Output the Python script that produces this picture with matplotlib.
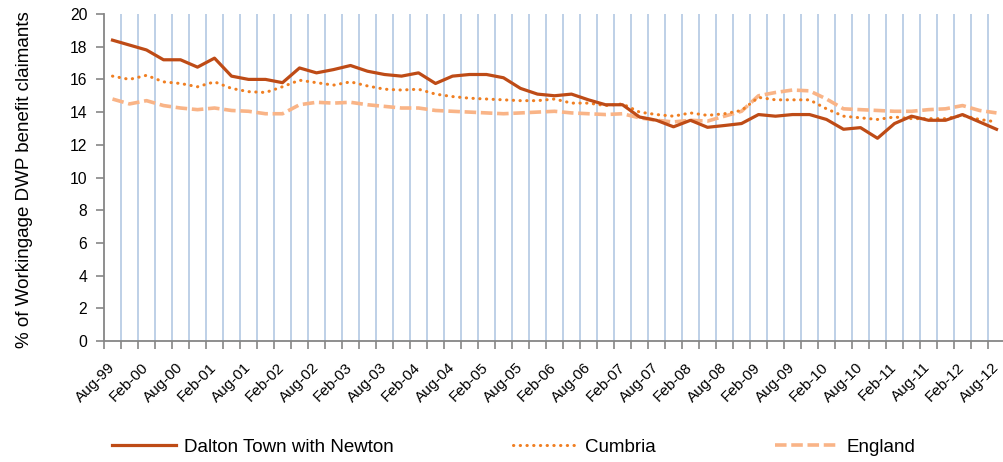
import numpy as np
import matplotlib.pyplot as plt
from matplotlib.transforms import ScaledTranslation

plt.rcParams['font.family'] = ['Liberation Sans', 'DejaVu Sans']

# quarterly readings, Aug-99 .. Aug-12
dalton = [18.4, 18.1, 17.8, 17.2, 17.2, 16.75, 17.3, 16.2, 16.0, 16.0,
          15.8, 16.7, 16.4, 16.6, 16.85, 16.5, 16.3, 16.2, 16.4, 15.75,
          16.2, 16.3, 16.3, 16.1, 15.45, 15.1, 15.0, 15.1, 14.75, 14.45,
          14.45, 13.7, 13.5, 13.1, 13.5, 13.07, 13.18, 13.3, 13.85, 13.75,
          13.85, 13.85, 13.55, 12.95, 13.05, 12.4, 13.3, 13.75, 13.5, 13.5,
          13.85, 13.4, 12.95]
cumbria = [16.2, 16.0, 16.25, 15.85, 15.75, 15.55, 15.85, 15.45, 15.25, 15.2,
           15.55, 15.95, 15.8, 15.65, 15.85, 15.6, 15.4, 15.35, 15.4, 15.1,
           14.95, 14.85, 14.8, 14.75, 14.7, 14.7, 14.8, 14.55, 14.55, 14.4,
           14.5, 14.0, 13.85, 13.75, 13.95, 13.8, 13.9, 14.1, 14.9, 14.75,
           14.75, 14.75, 14.2, 13.75, 13.65, 13.55, 13.7, 13.6, 13.6, 13.6,
           13.8, 13.55, 13.4]
england = [14.8, 14.5, 14.7, 14.4, 14.25, 14.15, 14.25, 14.1, 14.05, 13.9,
           13.9, 14.45, 14.6, 14.55, 14.6, 14.45, 14.35, 14.25, 14.25, 14.1,
           14.05, 14.0, 13.95, 13.9, 13.95, 14.0, 14.05, 13.95, 13.9, 13.85,
           13.9, 13.65, 13.5, 13.4, 13.5, 13.45, 13.75, 14.05, 15.0, 15.2,
           15.35, 15.3, 14.8, 14.2, 14.15, 14.1, 14.05, 14.05, 14.15, 14.2,
           14.4, 14.1, 13.95]
tick_labels = ['Aug-99', 'Feb-00', 'Aug-00', 'Feb-01', 'Aug-01', 'Feb-02',
               'Aug-02', 'Feb-03', 'Aug-03', 'Feb-04', 'Aug-04', 'Feb-05',
               'Aug-05', 'Feb-06', 'Aug-06', 'Feb-07', 'Aug-07', 'Feb-08',
               'Aug-08', 'Feb-09', 'Aug-09', 'Feb-10', 'Aug-10', 'Feb-11',
               'Aug-11', 'Feb-12', 'Aug-12']

n = len(dalton)
x = np.arange(n)
axcol = '#868686'

fig = plt.figure(figsize=(10.04, 4.62), dpi=100)
ax = fig.add_axes([104 / 1004, 121 / 462, 901 / 1004, 327 / 462])

# vertical grid between categories
ax.vlines(x + 0.5, 0, 20, color='#B9CDE5', lw=1.3, zorder=1)

ax.plot(x, england, color='#F9B487', lw=2.6, dashes=(3.2, 1.3), zorder=3,
        label='England')
ax.plot(x, cumbria, color='#F07F22', lw=2.2, linestyle=(0, (0.1, 2.1)),
        dash_capstyle='round', zorder=4, label='Cumbria')
ax.plot(x, dalton, color='#BE4B16', lw=2.3, zorder=5,
        label='Dalton Town with Newton')

ax.set_xlim(-0.5, n - 0.5)
ax.set_ylim(0, 20)
ax.set_yticks(range(0, 21, 2))

ax.set_xticks(np.arange(n + 1) - 0.5)
ax.set_xticklabels([])
ax.set_xticks(x[::2], tick_labels, minor=True)
ax.tick_params(axis='x', which='major', length=6, width=1.2, color=axcol)
ax.tick_params(axis='x', which='minor', length=0, pad=14, labelsize=11)
ax.tick_params(axis='y', length=6, width=1.2, color=axcol, labelsize=11.3, pad=6)
shift = ScaledTranslation(-5 / 100, 0, fig.dpi_scale_trans)
for lab in ax.get_xticklabels(minor=True):
    lab.set_rotation(45)
    lab.set_ha('right')
    lab.set_rotation_mode('anchor')
    lab.set_transform(lab.get_transform() + shift)

for s in ['top', 'right']:
    ax.spines[s].set_visible(False)
for s in ['left', 'bottom']:
    ax.spines[s].set_color(axcol)
    ax.spines[s].set_linewidth(1.3)
    ax.spines[s].set_zorder(6)

fig.text(25 / 1004, 1 - 180 / 462, '% of Workingage DWP benefit claimants',
         rotation=90, ha='center', va='center', fontsize=13.5)

h, l = ax.get_legend_handles_labels()
fig.legend(h[::-1], l[::-1], loc='center', bbox_to_anchor=(0.512, 15 / 462),
           ncol=3, frameon=False, fontsize=13.5, handlelength=3.4,
           handletextpad=0.4, columnspacing=6.4)

fig.savefig('out.png', dpi=100)
